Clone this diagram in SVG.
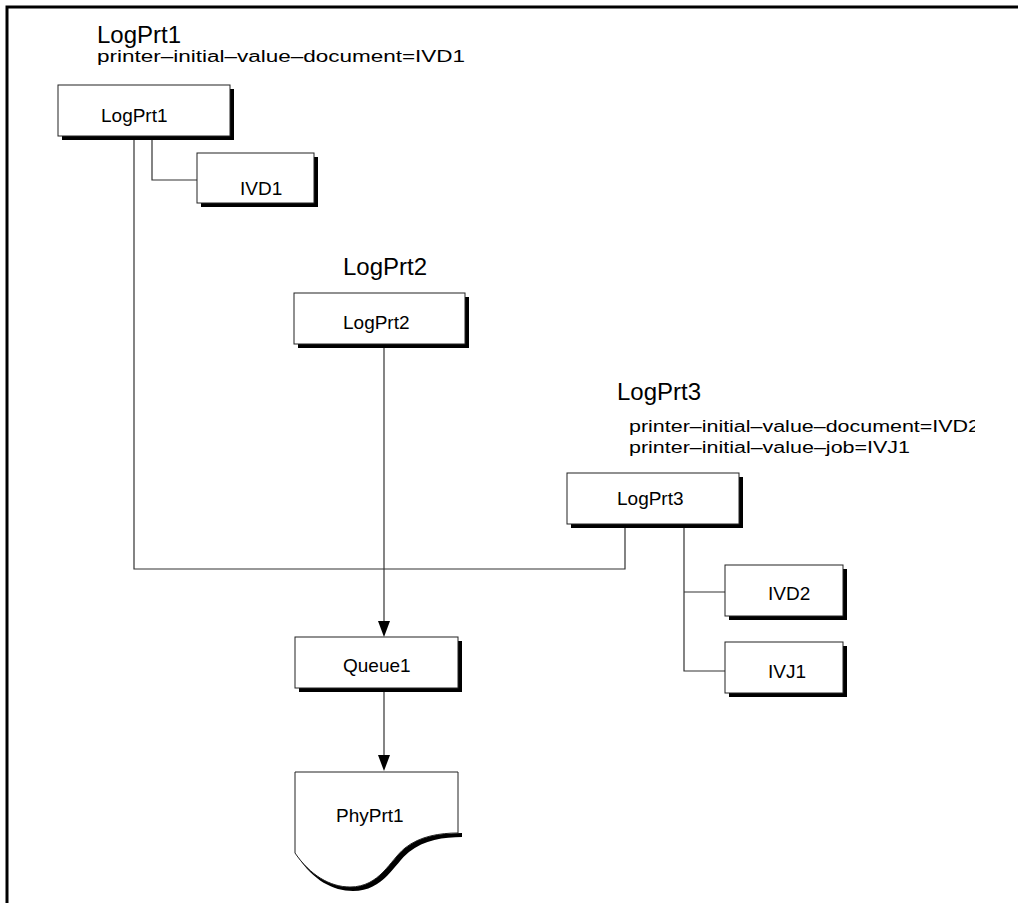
<svg xmlns="http://www.w3.org/2000/svg" width="1018" height="903" viewBox="0 0 1018 903">
<style>
.box{fill:#fff;stroke:#222;stroke-width:1}
.sh{fill:#000}
.lbl{font-family:"Liberation Sans",Arial,sans-serif;font-size:19px;fill:#000}
.ttl{font-family:"Liberation Sans",Arial,sans-serif;font-size:24px;fill:#000}
.attr{font-family:"Liberation Sans",Arial,sans-serif;font-size:16px;fill:#000}
.conn{fill:none;stroke:#333;stroke-width:1.2}
.head{fill:#000}
</style>
<defs>
<clipPath id="clip3"><rect x="0" y="380" width="975" height="100"/></clipPath>
</defs>
<rect x="0" y="0" width="1018" height="903" fill="#fff"/>
<path d="M7,903 V7 H1018" fill="none" stroke="#000" stroke-width="3"/>

<g id="connectors">
<path class="conn" d="M134,136 V569 H625 V524"/>
<path class="conn" d="M152,136 V180 H197"/>
<path class="conn" d="M684,524 V671 H725 M684,592 H725"/>
<path class="conn" d="M384,344 V622"/>
<polygon class="head" points="378,621 390,621 384,637"/>
<path class="conn" d="M384,692 V756"/>
<polygon class="head" points="378,755 390,755 384,771"/>
</g>

<g id="title-LogPrt1">
<text class="ttl" x="97" y="43">LogPrt1</text>
<text class="attr" x="97" y="62" textLength="368" lengthAdjust="spacingAndGlyphs">printer–initial–value–document=IVD1</text>
</g>
<g id="title-LogPrt2">
<text class="ttl" x="343" y="275">LogPrt2</text>
</g>
<g id="title-LogPrt3">
<text class="ttl" x="617" y="400">LogPrt3</text>
<g clip-path="url(#clip3)">
<text class="attr" x="629" y="432" textLength="351" lengthAdjust="spacingAndGlyphs">printer–initial–value–document=IVD2</text>
</g>
<text class="attr" x="629" y="453" textLength="281" lengthAdjust="spacingAndGlyphs">printer–initial–value–job=IVJ1</text>
</g>

<g id="LogPrt1">
<rect class="sh" x="62" y="89" width="172" height="51"/>
<rect class="box" x="58" y="85" width="172" height="51"/>
<text class="lbl" x="101" y="122">LogPrt1</text>
</g>
<g id="IVD1">
<rect class="sh" x="201" y="157" width="117" height="50"/>
<rect class="box" x="197" y="153" width="117" height="50"/>
<text class="lbl" x="240" y="195">IVD1</text>
</g>
<g id="LogPrt2">
<rect class="sh" x="298" y="297" width="171" height="51"/>
<rect class="box" x="294" y="293" width="171" height="51"/>
<text class="lbl" x="343" y="329">LogPrt2</text>
</g>
<g id="LogPrt3">
<rect class="sh" x="571" y="477" width="172" height="51"/>
<rect class="box" x="567" y="473" width="172" height="51"/>
<text class="lbl" x="617" y="505">LogPrt3</text>
</g>
<g id="IVD2">
<rect class="sh" x="729" y="569" width="118" height="51"/>
<rect class="box" x="725" y="565" width="118" height="51"/>
<text class="lbl" x="768" y="600">IVD2</text>
</g>
<g id="IVJ1">
<rect class="sh" x="729" y="646" width="118" height="51"/>
<rect class="box" x="725" y="642" width="118" height="51"/>
<text class="lbl" x="768" y="678">IVJ1</text>
</g>
<g id="Queue1">
<rect class="sh" x="299" y="641" width="163" height="51"/>
<rect class="box" x="295" y="637" width="163" height="51"/>
<text class="lbl" x="343" y="672">Queue1</text>
</g>
<g id="PhyPrt1">
<path class="sh" d="M298,857 C313,880 333,891 353,891 C384,891 394,864 409,852 C424,840 444,837 462,837 V833 C440,833 420,836 405,848 C390,860 380,887 350,887 Z"/>
<path class="box" d="M295,772 H458 V833 C440,833 420,836 405,848 C390,860 380,887 350,887 C330,887 310,875 295,853 Z"/>
<text class="lbl" x="336" y="822">PhyPrt1</text>
</g>
</svg>
